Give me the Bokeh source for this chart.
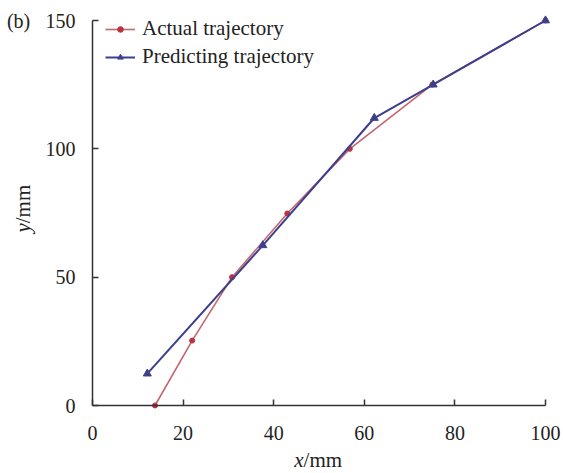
import math
from bokeh.plotting import figure
from bokeh.models import Range1d, Label, Legend, LegendItem, FixedTicker
from bokeh.embed import file_html
from bokeh.resources import INLINE

# Data
actual_x = [13.8, 22.0, 30.8, 43.0, 56.8, 75.0, 100.0]
actual_y = [0.0, 25.3, 50.0, 74.8, 100.0, 125.0, 150.0]
pred_x = [12.1, 37.6, 62.2, 75.2, 100.0]
pred_y = [12.4, 62.4, 112.0, 125.0, 150.0]
x_ticks = [0, 20, 40, 60, 80, 100]
y_ticks = [0, 50, 100, 150]

FONT = "Liberation Serif"
RED_LINE = "#c4666e"
RED_MARK = "#b8323f"
BLUE = "#3d3f8e"
TXT = "#222222"

# Frame covers the whole canvas; axes are pinned at the origin so that
# labels outside the axes are not clipped.
W, H = 563, 473
L, R, T, B = 92, 545, 20, 405
sx = (R - L) / 100.0
sy = (B - T) / 150.0
x0, x1 = -L / sx, 100 + (W - R) / sx
y0, y1 = -(H - B) / sy, 150 + T / sy

p = figure(width=W, height=H, output_backend="svg", toolbar_location=None, title=None,
           x_range=Range1d(x0, x1), y_range=Range1d(y0, y1),
           min_border=0, min_border_left=0, min_border_right=0, min_border_top=0, min_border_bottom=0)
p.outline_line_color = None
p.xgrid.visible = False
p.ygrid.visible = False

for ax in (p.xaxis[0], p.yaxis[0]):
    ax.fixed_location = 0
    ax.major_label_text_font = FONT
    ax.major_label_text_font_size = "20px"
    ax.major_label_text_color = TXT
    ax.axis_line_color = "#333333"
    ax.axis_line_width = 1.5
    ax.major_tick_line_color = "#333333"
    ax.major_tick_line_width = 1.5
    ax.major_tick_in = 6
    ax.major_tick_out = 0
    ax.minor_tick_line_color = None
p.xaxis.bounds = (0, 100)
p.yaxis.bounds = (0, 150)
p.xaxis.ticker = FixedTicker(ticks=x_ticks)
p.yaxis.ticker = FixedTicker(ticks=y_ticks)
p.xaxis.major_label_standoff = 20
p.yaxis.major_label_standoff = 17

r1 = p.line(actual_x, actual_y, line_color=RED_LINE, line_width=1.6)
r1m = p.scatter(actual_x, actual_y, marker="circle", size=5, fill_color=RED_MARK, line_color=RED_MARK)
r2 = p.line(pred_x, pred_y, line_color=BLUE, line_width=2)
r2m = p.scatter(pred_x, pred_y, marker="triangle", size=8, fill_color=BLUE, line_color=BLUE)

legend = Legend(items=[LegendItem(label="Actual trajectory", renderers=[r1, r1m]),
                       LegendItem(label="Predicting trajectory", renderers=[r2, r2m])],
                location=(105, H - 69))
legend.label_text_font = FONT
legend.label_text_font_size = "21px"
legend.label_text_color = TXT
legend.background_fill_alpha = 0
legend.border_line_color = None
legend.padding = 0
legend.margin = 0
legend.spacing = 3
legend.label_height = 24
legend.glyph_height = 14
legend.glyph_width = 30
legend.label_standoff = 7
p.add_layout(legend, "center")

# Axis titles and panel label
p.add_layout(Label(x=46.6, y=-21.3, text="x", text_align="right", text_baseline="middle",
                   text_font=FONT, text_font_style="italic", text_font_size="21px", text_color=TXT))
p.add_layout(Label(x=46.6, y=-21.3, text="/mm", text_align="left", text_baseline="middle",
                   text_font=FONT, text_font_size="21px", text_color=TXT))
p.add_layout(Label(x=-15.3, y=71.0, text="y", text_align="right", text_baseline="middle", angle=math.pi / 2,
                   text_font=FONT, text_font_style="italic", text_font_size="21px", text_color=TXT))
p.add_layout(Label(x=-15.3, y=71.0, text="/mm", text_align="left", text_baseline="middle", angle=math.pi / 2,
                   text_font=FONT, text_font_size="21px", text_color=TXT))
p.add_layout(Label(x=-18.9, y=150.0, text="(b)", text_align="left", text_baseline="middle",
                   text_font=FONT, text_font_size="20px", text_color=TXT))

open("out.html", "w").write(file_html(p, INLINE))
